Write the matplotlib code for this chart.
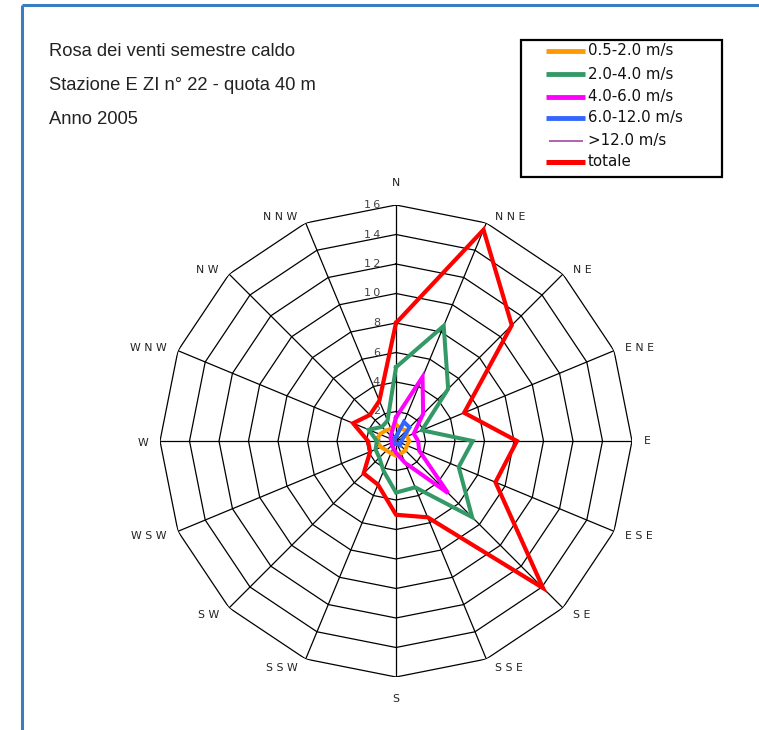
import numpy as np
import matplotlib
matplotlib.use("Agg")
import matplotlib.pyplot as plt
from matplotlib.patches import Rectangle

# Wind directions, clockwise from north
directions = ["N", "NNE", "NE", "ENE", "E", "ESE", "SE", "SSE",
              "S", "SSW", "SW", "WSW", "W", "WNW", "NW", "NNW"]

# Frequencies (%) per speed class
v_05_20 = [1.1, 0.9, 1.0, 0.8, 0.9, 0.8, 0.9, 0.9, 1.0, 0.9, 0.9, 1.1, 1.3, 1.2, 1.0, 0.9]
v_20_40 = [5.0, 8.45, 5.0, 1.9, 5.2, 4.6, 7.3, 3.4, 3.5, 2.2, 1.6, 1.5, 1.3, 2.0, 1.35, 1.5]
v_40_60 = [1.6, 4.7, 2.6, 1.3, 1.5, 1.7, 5.0, 1.6, 0.8, 0.5, 0.4, 0.3, 0.3, 0.4, 0.5, 0.7]
v_60_120 = [0.3, 1.4, 1.3, 0.5, 0.4, 0.3, 0.4, 0.2, 0.2, 0.1, 0.1, 0.1, 0.1, 0.1, 0.1, 0.2]
v_over_12 = [0.05, 0.05, 0.05, 0.05, 0.05, 0.05, 0.05, 0.05, 0.05, 0.05, 0.05, 0.05, 0.05, 0.05, 0.05, 0.05]
totale = [8.0, 15.5, 11.1, 5.0, 8.2, 7.3, 14.1, 5.6, 5.0, 3.2, 3.1, 1.9, 1.9, 3.15, 2.5, 2.95]

series_labels = ["0.5-2.0 m/s", "2.0-4.0 m/s", "4.0-6.0 m/s", "6.0-12.0 m/s", ">12.0 m/s", "totale"]
series_values = [v_05_20, v_20_40, v_40_60, v_60_120, v_over_12, totale]
series_colors = ["#FF9900", "#339966", "#FF00FF", "#3366FF", "#993399", "#FF0000"]
series_widths = [2.9, 2.9, 2.9, 2.9, 0.9, 3.0]

r_ticks = [0, 2, 4, 6, 8, 10, 12, 14, 16]
r_max = 16

title_lines = ["Rosa dei venti semestre caldo",
               "Stazione E ZI n\u00b0 22 - quota 40 m",
               "Anno 2005"]

W, H = 759, 730
fig = plt.figure(figsize=(W / 100, H / 100), dpi=100)

def spaced(s, sep=" "):
    return sep.join(s)

# Overlay in pixel coordinates for frame, titles and legend
over = fig.add_axes([0, 0, 1, 1])
over.set_xlim(0, W)
over.set_ylim(H, 0)
over.axis("off")
over.plot([22, W], [5, 5], color="#3A7CC0", lw=2.2, solid_capstyle="butt")
over.plot([22, 22], [5, H], color="#3A7CC0", lw=2.2, solid_capstyle="butt")

for i, t in enumerate(title_lines):
    over.text(49, 51 + 34.5 * i, t, fontsize=13.2, family="Liberation Sans",
              color="#222222", va="center", ha="left")

# Legend box
over.add_patch(Rectangle((521, 40), 201, 137, fill=False, edgecolor="black", lw=1.6, zorder=5))
legend_rows = [51, 74, 96.5, 117.5, 141, 162]
for yy, lab, col, lw in zip(legend_rows, series_labels, series_colors, series_widths):
    x0 = 546 if lw > 1.5 else 549
    x1 = 585 if lw > 1.5 else 583
    over.plot([x0, x1], [yy, yy], color=col, lw=lw * 1.2, solid_capstyle="butt", zorder=5)
    over.text(588, yy, lab, fontsize=10.8, family="DejaVu Sans", color="#111111",
              va="center", ha="left", zorder=5)

# Polar axes centred on the rose
cx, cy, R = 396, 441, 236
ax = fig.add_axes([(cx - R) / W, (H - cy - R) / H, 2 * R / W, 2 * R / H],
                  projection="polar")
ax.set_theta_zero_location("N")
ax.set_theta_direction(-1)
ax.set_ylim(0, r_max)
ax.grid(False)
ax.spines["polar"].set_visible(False)
ax.set_xticks([])
ax.set_yticks([])
ax.patch.set_alpha(0)

theta = np.deg2rad(np.arange(len(directions)) * 360 / len(directions))
theta_closed = np.append(theta, theta[0])

# Polygonal rings and spokes
for rv in r_ticks[1:]:
    ax.plot(theta_closed, [rv] * len(theta_closed), color="black", lw=0.9, zorder=1)
for th in theta:
    ax.plot([th, th], [0, r_max], color="black", lw=0.9, zorder=1)

# Radial tick labels along the north spoke
for rv in r_ticks:
    ax.annotate(spaced(str(rv), "\u2009"), xy=(0, rv), xytext=(-11.5, 0),
                textcoords="offset points", ha="right", va="center",
                fontsize=8, color="#444444", family="DejaVu Sans", zorder=2)

# Direction labels just outside the outer ring
for th, d in zip(theta, directions):
    s, c = np.sin(th), np.cos(th)
    if abs(s) < 0.1:
        ha = "center"
        dx, dy = 0, 16 * np.sign(c)
    else:
        ha = "left" if s > 0 else "right"
        dx = np.sign(s) * (4.5 + 4 * abs(s))
        dy = 4.5 * c if c >= 0 else 5 * c - 1.5
    ax.annotate(spaced(d), xy=(th, r_max), xytext=(dx, dy), textcoords="offset points",
                ha=ha, va="center", fontsize=7.8, color="#222222", family="DejaVu Sans")

# Series polygons
for vals, col, lw in zip(series_values, series_colors, series_widths):
    v = np.append(vals, vals[0])
    ax.plot(theta_closed, v, color=col, lw=lw, zorder=3, solid_joinstyle="miter")

fig.savefig("out.png", dpi=100)
